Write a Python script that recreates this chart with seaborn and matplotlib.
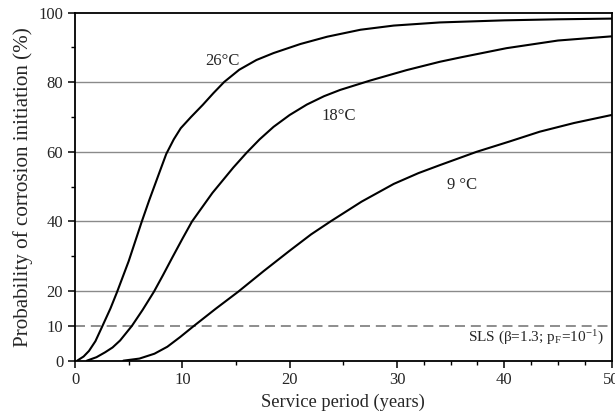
import numpy as np
import pandas as pd
import matplotlib
matplotlib.use("Agg")
import matplotlib.pyplot as plt
import seaborn as sns

# Values (service period in years, probability in %)
years_26 = [0.2, 0.8, 1.3, 1.9, 2.5, 3.3, 3.9, 5.0, 6.2, 6.9, 7.9, 8.5, 9.2,
            9.85, 10.8, 11.9, 12.9, 13.9, 15.3, 16.9, 18.5, 21.0, 23.5, 26.6,
            29.7, 34.0, 40.0, 45.0, 50.0]
prob_26 = [0, 1.2, 2.8, 5.6, 9.6, 15, 19.6, 28.6, 39.8, 46, 54.4, 59.4, 63.6,
           66.8, 70, 73.5, 76.9, 80.1, 83.6, 86.4, 88.4, 91, 93.1, 95.1,
           96.3, 97.2, 97.8, 98.1, 98.3]

years_18 = [1.1, 2.0, 2.8, 3.5, 4.2, 5.3, 6.3, 7.35, 8.2, 9.04, 10.0, 10.9,
            12.8, 14.75, 16.0, 17.2, 18.5, 20.0, 21.6, 23.2, 24.7, 27.5, 30.9,
            34.0, 36.0, 40.2, 45.0, 50.0]
prob_18 = [0, 1.0, 2.4, 3.8, 5.8, 10, 14.6, 19.8, 24.6, 29.5, 35, 40,
           48.2, 55.5, 59.8, 63.6, 67.2, 70.6, 73.6, 76, 77.8, 80.5, 83.5,
           85.9, 87.2, 89.8, 92, 93.2]

years_9 = [4.5, 6.0, 7.4, 8.6, 9.8, 11.0, 13.1, 15.2, 17.6, 20.0, 22.0,
           23.8, 26.7, 29.7, 32.0, 34.0, 37.4, 40.5, 43.3, 46.5, 50.0]
prob_9 = [0, 0.6, 2.0, 4.0, 6.8, 9.8, 14.9, 19.8, 25.8, 31.6, 36.3,
          40, 45.7, 50.8, 53.9, 56.2, 60, 63, 65.8, 68.3, 70.6]

curve_labels = ["26°C", "18°C", "9 °C"]
label_x = [13.7, 24.6, 36.1]
label_y = [86.1, 70.3, 50.5]

sls_level = 10
sls_text = "SLS (β=1.3; p$_\\mathregular{F}$=10$^\\mathregular{-1}$)"

y_major = [0, 10, 20, 40, 60, 80, 100]
y_minor = [30, 50, 70, 90]
x_major = [0, 10, 20, 30, 40, 50]
x_minor = [5, 15, 25, 32.5, 35, 37.5, 42.5, 45, 47.5]
grid_levels = [20, 40, 60, 80]

df = pd.concat([
    pd.DataFrame({"year": years_26, "prob": prob_26, "temp": "26"}),
    pd.DataFrame({"year": years_18, "prob": prob_18, "temp": "18"}),
    pd.DataFrame({"year": years_9, "prob": prob_9, "temp": "9"}),
])

sns.set_theme(style="ticks")
plt.rcParams["font.family"] = ["Liberation Serif", "DejaVu Serif"]
plt.rcParams["mathtext.fontset"] = "stix"

fig = plt.figure(figsize=(6.15, 4.16), dpi=100)
ax = fig.add_axes([0.122, 0.133, 0.8725, 0.8365])

for lvl in grid_levels:
    ax.axhline(lvl, color="#8a8a8a", lw=1.0, zorder=1)
ax.axhline(sls_level, color="#7a7a7a", lw=1.2, dashes=(6, 3.5), zorder=1)

sns.lineplot(data=df, x="year", y="prob", units="temp", estimator=None,
             color="black", lw=1.5, sort=False, ax=ax, zorder=3)
for ln in ax.get_lines()[-3:]:
    ln.set_solid_joinstyle("round")

for txt, tx, ty in zip(curve_labels, label_x, label_y):
    ax.text(tx, ty, txt, ha="center", va="center", fontsize=12)
ax.text(49.3, 7, sls_text, ha="right", va="center", fontsize=11)

ax.set_xlim(0, 50)
ax.set_ylim(0, 100)
ax.set_xticks(x_major)
ax.set_xticks(x_minor, minor=True)
ax.set_yticks(y_major)
ax.set_yticks(y_minor, minor=True)
ax.tick_params(axis="both", which="major", direction="out", length=5, width=1.1,
               labelsize=12, color="black")
ax.tick_params(axis="both", which="minor", direction="out", length=3, width=1.0,
               color="black")
for sp in ax.spines.values():
    sp.set_visible(True)
    sp.set_color("black")
    sp.set_linewidth(1.3)

ax.set_xlabel("Service period (years)", fontsize=13.3, labelpad=4)
ax.set_ylabel("Probability of corrosion initiation (%)", fontsize=15.2, labelpad=4)

fig.savefig("out.png", dpi=100)
